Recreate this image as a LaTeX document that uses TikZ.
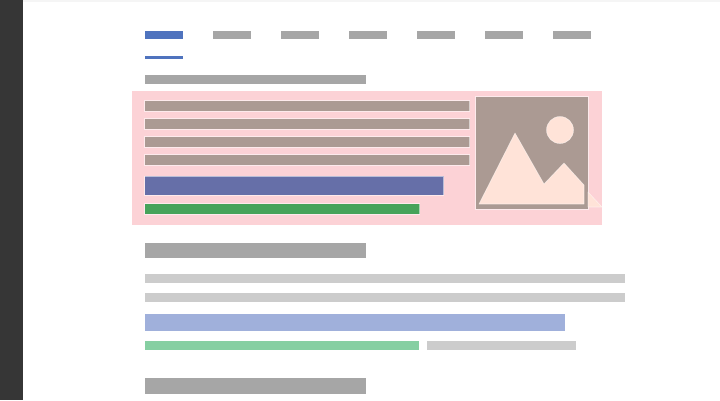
\documentclass[tikz,border=0pt]{standalone}
\definecolor{SideClr}{HTML}{363636}
\definecolor{EdgeClr}{HTML}{F5F5F5}
\definecolor{BlueClr}{HTML}{4F73BE}
\definecolor{GreyClr}{HTML}{A6A6A6}
\definecolor{PinkClr}{HTML}{FCD2D6}
\definecolor{RowClr}{HTML}{AB9A93}
\definecolor{PurpleClr}{HTML}{666FA8}
\definecolor{GreenClr}{HTML}{46A35A}
\definecolor{LightGreyClr}{HTML}{CCCCCC}
\definecolor{LightBlueClr}{HTML}{A0B0DB}
\definecolor{LightGreenClr}{HTML}{86CFA2}
\definecolor{PeachClr}{HTML}{FFE3D8}
\tikzset{
  bar/.style={fill=#1,draw=none},
  hlbar/.style={fill=#1,draw=white,draw opacity=0.55,line width=0.7pt},
  peach/.style={fill=PeachClr,draw=white,draw opacity=0.5,line width=0.6pt,line join=round}
}

\begin{document}
\begin{tikzpicture}[x=1pt,y=-1pt]
\useasboundingbox (0,0) rectangle (720,400);
\fill[white] (0,0) rectangle (720,400);

\fill[EdgeClr] (23,0) rectangle (720,2);
\fill[SideClr] (0,0) rectangle (23,400);

% menu
\fill[bar=BlueClr] (145,31) rectangle (183,39);
\fill[bar=BlueClr] (145,56) rectangle (183,58.5);
\foreach \x in {213,281,349,417,485,553}
  \fill[bar=GreyClr] (\x,31) rectangle ++(37.5,8);

\fill[bar=GreyClr] (145,75) rectangle (366,84);

% highlighted block
\fill[bar=PinkClr] (132,91) rectangle (602,225);
\foreach \y in {100.5,118.5,136.5,154.5}
  \filldraw[hlbar=RowClr] (144.5,\y) rectangle ++(325,10.5);
\filldraw[hlbar=PurpleClr] (144.5,176) rectangle (443.5,195);
\filldraw[hlbar=GreenClr] (144.5,203.5) rectangle (419.5,214);

% picture
\filldraw[hlbar=RowClr] (475.5,96.5) rectangle (588,209);
\filldraw[peach] (479,204) -- (515,133) -- (544,184) -- (564,163) -- (584,185) -- (584,204) -- cycle;
\filldraw[peach] (560,130) circle (13.5);
\filldraw[peach] (588,192) -- (602,207) -- (588,207) -- cycle;

% lower blocks
\fill[bar=GreyClr] (145,243) rectangle (366,258);
\fill[bar=LightGreyClr] (145,274) rectangle (625,283);
\fill[bar=LightGreyClr] (145,293) rectangle (625,302);
\fill[bar=LightBlueClr] (145,314) rectangle (565,331);
\fill[bar=LightGreenClr] (145,341) rectangle (419,350);
\fill[bar=LightGreyClr] (427,341) rectangle (576,350);
\fill[bar=GreyClr] (145,378) rectangle (366,394);
\end{tikzpicture}
\end{document}
